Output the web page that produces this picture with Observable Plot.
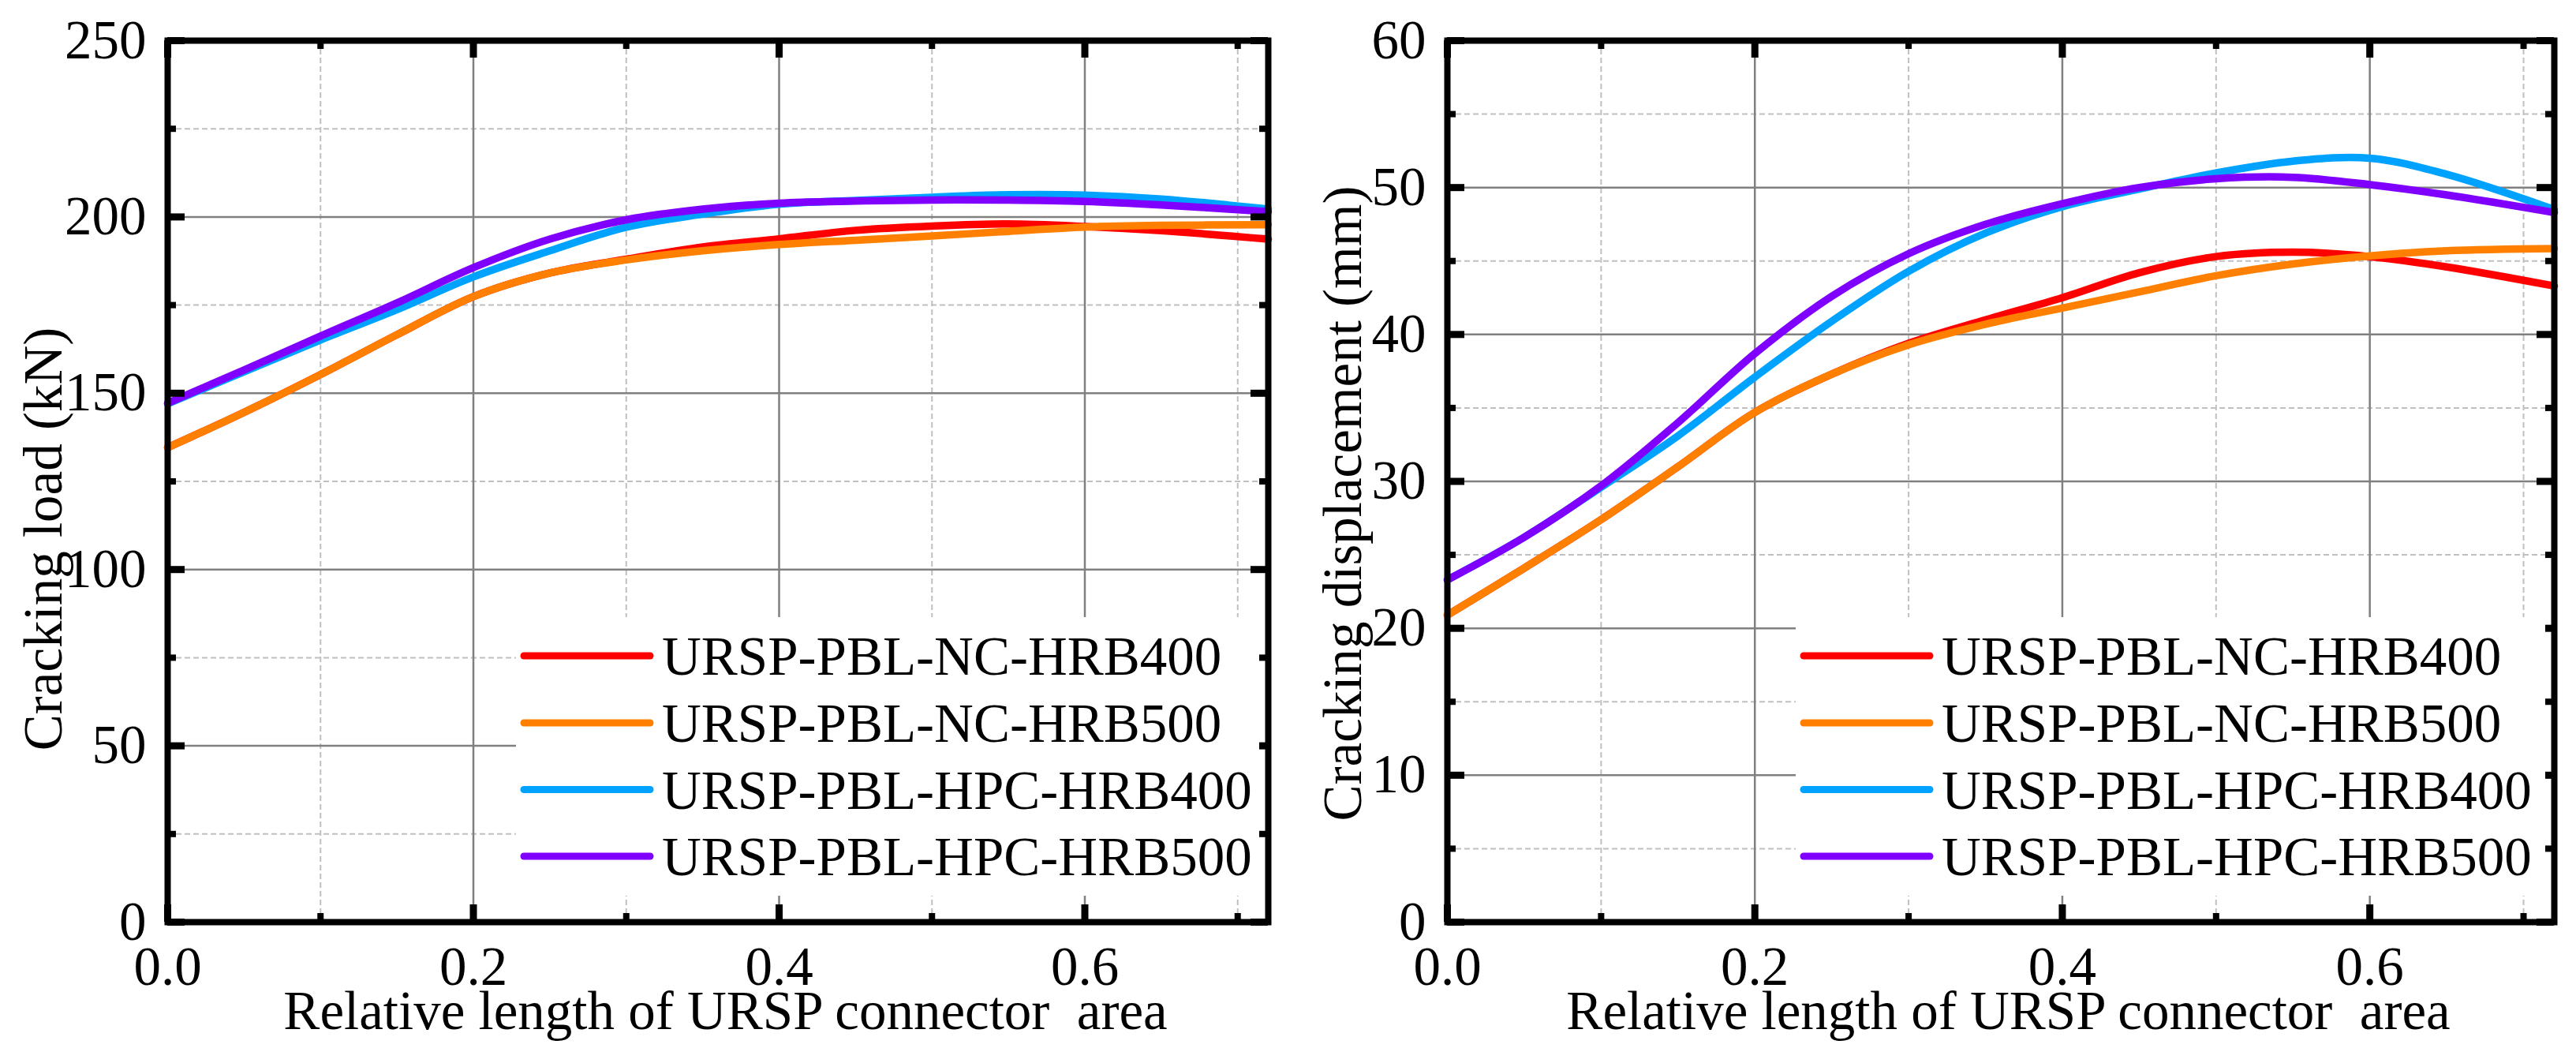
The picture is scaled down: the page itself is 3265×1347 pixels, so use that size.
<!DOCTYPE html>
<html>
<head>
<meta charset="utf-8">
<script src="https://cdn.jsdelivr.net/npm/d3@7"></script>
<script src="https://cdn.jsdelivr.net/npm/@observablehq/plot@0.6"></script>
<style>
html, body { margin: 0; padding: 0; background: #fff; }
#wrap { display: flex; width: 3265px; height: 1347px; }
#wrap svg { display: block; flex-shrink: 0; max-width: none; }
</style>
</head>
<body>
<div id="wrap"></div>
<script>
// ---------- data ----------
const xs = [0, 0.05, 0.1, 0.15, 0.2, 0.25, 0.3, 0.35, 0.4, 0.45, 0.5, 0.55, 0.6, 0.65, 0.72];

const seriesNames = ["URSP-PBL-NC-HRB400", "URSP-PBL-NC-HRB500", "URSP-PBL-HPC-HRB400", "URSP-PBL-HPC-HRB500"];
const seriesColors = ["#ff0000", "#ff8000", "#00a2ff", "#8000ff"];

// Cracking load (kN)
const loadNC400  = [134.6, 144.6, 155.3, 166.6, 177.4, 184.1, 188.0, 191.5, 193.8, 196.2, 197.4, 198.0, 197.3, 196.1, 193.7];
const loadNC500  = [134.6, 144.6, 155.3, 166.6, 177.4, 184.1, 187.8, 190.4, 192.2, 193.4, 194.6, 195.9, 197.1, 197.6, 197.8];
const loadHPC400 = [147.0, 156.1, 165.1, 173.7, 183.0, 190.4, 197.1, 200.8, 203.6, 204.7, 205.6, 206.3, 206.2, 205.1, 202.2];
const loadHPC500 = [147.2, 156.6, 166.2, 175.6, 185.6, 193.7, 199.2, 202.2, 203.9, 204.5, 204.8, 204.8, 204.4, 203.4, 201.5];

// Cracking displacement (mm)
const dispNC400  = [20.9, 24.1, 27.4, 31.0, 34.7, 37.3, 39.4, 41.0, 42.5, 44.2, 45.3, 45.6, 45.3, 44.6, 43.3];
const dispNC500  = [20.9, 24.1, 27.4, 31.0, 34.7, 37.3, 39.3, 40.7, 41.8, 42.9, 44.0, 44.8, 45.35, 45.7, 45.85];
const dispHPC400 = [23.3, 26.2, 29.6, 33.1, 37.1, 40.9, 44.3, 46.9, 48.7, 49.9, 51.0, 51.8, 52.0, 50.9, 48.5];
const dispHPC500 = [23.3, 26.2, 29.7, 34.0, 38.7, 42.6, 45.5, 47.5, 48.9, 50.0, 50.6, 50.7, 50.2, 49.5, 48.3];

const xDomain = [0, 0.72];
const xMajor = [0, 0.2, 0.4, 0.6];
const xMinor = [0.1, 0.3, 0.5, 0.7];
const loadMajor = [0, 50, 100, 150, 200, 250];
const loadMinor = [25, 75, 125, 175, 225];
const dispMajor = [0, 10, 20, 30, 40, 50, 60];
const dispMinor = [5, 15, 25, 35, 45, 55];

const xTitle = "Relative length of URSP connector  area";
const loadTitle = "Cracking load (kN)";
const dispTitle = "Cracking displacement (mm)";

// ---------- drawing ----------
const FONT = "'Liberation Serif', 'Times New Roman', serif";
const FS = 69;
const H = 1347;

function panel(cfg) {
  const {width, ml, mr, mt, mb, yDomain, yMajor, yMinor, series, yTitle, yTitleX, yTitleY, xTitleDx} = cfg;
  const pw = width - ml - mr, ph = H - mt - mb;
  const marks = [
    Plot.ruleX(xMinor, {x: d => d, stroke: "#c0c0c0", strokeWidth: 2, strokeDasharray: "7,4"}),
    Plot.ruleY(yMinor, {y: d => d, stroke: "#c0c0c0", strokeWidth: 2, strokeDasharray: "7,4"}),
    Plot.ruleX(xMajor, {x: d => d, stroke: "#808080", strokeWidth: 2.5}),
    Plot.ruleY(yMajor, {y: d => d, stroke: "#808080", strokeWidth: 2.5})
  ];
  series.forEach((vals, i) => {
    const data = vals.map((v, j) => ({x: xs[j], y: v}));
    marks.push(Plot.line(data, {x: "x", y: "y", stroke: seriesColors[i], strokeWidth: 9.5, curve: "catmull-rom"}));
  });
  marks.push(Plot.frame({stroke: "black", strokeWidth: 8}));
  const big = 22, small = 11;
  // inward ticks on all four sides
  marks.push(
    Plot.tickX(xMajor, {x: d => d, insetTop: ph - big, stroke: "black", strokeWidth: 9}),
    Plot.tickX(xMinor, {x: d => d, insetTop: ph - small, stroke: "black", strokeWidth: 8}),
    Plot.tickX(xMajor, {x: d => d, insetBottom: ph - big, stroke: "black", strokeWidth: 9}),
    Plot.tickX(xMinor, {x: d => d, insetBottom: ph - small, stroke: "black", strokeWidth: 8}),
    Plot.tickY(yMajor, {y: d => d, insetRight: pw - big, stroke: "black", strokeWidth: 9}),
    Plot.tickY(yMinor, {y: d => d, insetRight: pw - small, stroke: "black", strokeWidth: 8}),
    Plot.tickY(yMajor, {y: d => d, insetLeft: pw - big, stroke: "black", strokeWidth: 9}),
    Plot.tickY(yMinor, {y: d => d, insetLeft: pw - small, stroke: "black", strokeWidth: 8})
  );
  const svg = Plot.plot({
    width, height: H,
    marginLeft: ml, marginRight: mr, marginTop: mt, marginBottom: mb,
    style: {fontFamily: FONT, fontSize: FS + "px", color: "black", background: "white"},
    x: {domain: xDomain, ticks: xMajor, tickFormat: d3.format(".1f"), tickSize: 0, tickPadding: 30, label: null},
    y: {domain: yDomain, ticks: yMajor, tickFormat: d => String(d), tickSize: 0, tickPadding: 27, label: null},
    marks
  });
  const s = d3.select(svg);
  // y title
  s.append("text")
    .attr("transform", `translate(${yTitleX},${yTitleY}) rotate(-90)`)
    .attr("text-anchor", "middle")
    .attr("font-family", FONT).attr("font-size", FS).attr("fill", "black")
    .text(yTitle);
  // x title
  s.append("text")
    .attr("x", ml + pw / 2 + xTitleDx).attr("y", 1304)
    .attr("text-anchor", "middle")
    .attr("font-family", FONT).attr("font-size", FS).attr("fill", "black")
    .style("white-space", "pre")
    .attr("xml:space", "preserve")
    .text(xTitle);
  // legend
  const lg = s.append("g");
  lg.append("rect")
    .attr("x", ml + 442).attr("y", 782)
    .attr("width", pw - 442 - 11).attr("height", 353)
    .attr("fill", "white");
  const rows = [831, 916, 1000.5, 1085];
  seriesNames.forEach((name, i) => {
    lg.append("line")
      .attr("x1", ml + 452).attr("x2", ml + 612)
      .attr("y1", rows[i]).attr("y2", rows[i])
      .attr("stroke", seriesColors[i]).attr("stroke-width", 9).attr("stroke-linecap", "round");
    lg.append("text")
      .attr("x", ml + 627).attr("y", rows[i] + 24)
      .attr("text-anchor", "start")
      .attr("font-family", FONT).attr("font-size", FS).attr("fill", "black")
      .text(name);
  });
  return svg;
}

const wrap = document.getElementById("wrap");
wrap.appendChild(panel({
  width: 1632, ml: 212, mr: 25, mt: 51, mb: 179,
  yDomain: [0, 250], yMajor: loadMajor, yMinor: loadMinor,
  series: [loadNC400, loadNC500, loadHPC400, loadHPC500],
  yTitle: loadTitle, yTitleX: 78, yTitleY: 683, xTitleDx: 10
}));
wrap.appendChild(panel({
  width: 1633, ml: 202, mr: 28, mt: 51, mb: 179,
  yDomain: [0, 60], yMajor: dispMajor, yMinor: dispMinor,
  series: [dispNC400, dispNC500, dispHPC400, dispHPC500],
  yTitle: dispTitle, yTitleX: 93, yTitleY: 638, xTitleDx: 10
}));
</script>
</body>
</html>
